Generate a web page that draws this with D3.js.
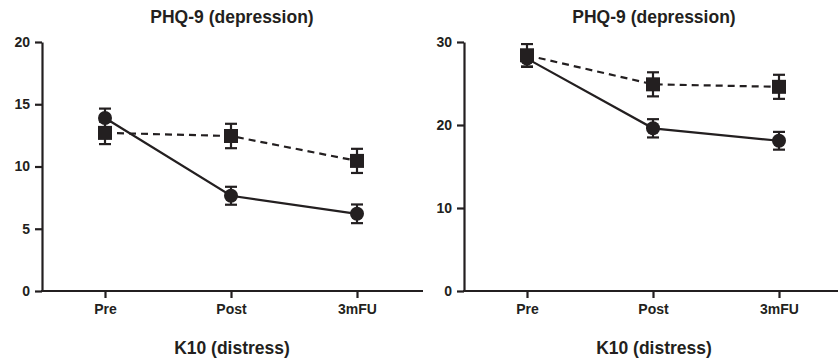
<!DOCTYPE html>
<html>
<head>
<meta charset="utf-8">
<script src="https://cdn.jsdelivr.net/npm/d3@7"></script>
<style>
    body { margin: 0; background: #fff; }
    svg { display: block; font-family: 'Liberation Sans', Arial, sans-serif; }
    .tick text { font-weight: bold; fill: #231f20; }
</style>
</head>
<body>
<svg id="chart" width="838" height="364"></svg>
<script>
// Time points
const categories = ['Pre', 'Post', '3mFU'];

// Left panel (0-20 scale)
const leftTicks = [0, 5, 10, 15, 20];
const leftCircle = [13.9, 7.65, 6.2];
const leftCircleErr = [0.75, 0.72, 0.75];
const leftSquare = [12.7, 12.45, 10.45];
const leftSquareErr = [0.9, 0.98, 0.97];

// Right panel (0-30 scale)
const rightTicks = [0, 10, 20, 30];
const rightCircle = [28.0, 19.6, 18.1];
const rightCircleErr = [1.0, 1.1, 1.07];
const rightSquare = [28.4, 24.9, 24.6];
const rightSquareErr = [1.35, 1.45, 1.45];

const titles = ['PHQ-9 (depression)', 'K10 (distress)'];

const ink = '#231f20';
const svg = d3.select('#chart');

const panels = [
    { x0: 42, max: 20, ticks: leftTicks, circle: leftCircle, circleErr: leftCircleErr, square: leftSquare, squareErr: leftSquareErr },
    { x0: 464, max: 30, ticks: rightTicks, circle: rightCircle, circleErr: rightCircleErr, square: rightSquare, squareErr: rightSquareErr },
];

panels.forEach((p) => {
    var g = svg.append('g');
    var x = d3.scalePoint().domain(categories).range([p.x0, p.x0 + 378]).padding(0.5);
    var y = d3.scaleLinear().domain([0, p.max]).range([291, 42]);

    // axes
    var ya = g.append('g')
        .attr('transform', 'translate(' + p.x0 + ',0)')
        .call(d3.axisLeft(y).tickValues(p.ticks).tickSize(7).tickPadding(5).tickSizeOuter(0));
    var xa = g.append('g')
        .attr('transform', 'translate(0,291)')
        .call(d3.axisBottom(x).tickSize(7).tickPadding(6).tickSizeOuter(0));
    [ya, xa].forEach((a) => {
        a.select('.domain').attr('stroke', ink).attr('stroke-width', 2.2);
        a.selectAll('.tick line').attr('stroke', ink).attr('stroke-width', 2.2);
        a.selectAll('.tick text').style('font-size', '14px');
    });
    // x axis runs from the y axis out to the panel edge
    xa.select('.domain').attr('d', 'M' + (p.x0 - 1) + ',0H' + (p.x0 + 381));

    var cx = p.x0 + 190;
    g.append('text').attr('x', cx).attr('y', 23).attr('text-anchor', 'middle')
        .style('font-size', '17.5px').style('font-weight', 'bold').attr('fill', ink).text(titles[0]);
    g.append('text').attr('x', cx).attr('y', 354).attr('text-anchor', 'middle')
        .style('font-size', '17.5px').style('font-weight', 'bold').attr('fill', ink).text(titles[1]);

    var series = [
        { vals: p.circle, err: p.circleErr, dash: null, shape: 'circle' },
        { vals: p.square, err: p.squareErr, dash: '7,5', shape: 'square' },
    ];
    var line = d3.line().x((d, i) => x(categories[i])).y((d) => y(d));

    series.forEach((s) => {
        g.append('path')
            .attr('d', line(s.vals))
            .attr('fill', 'none')
            .attr('stroke', ink)
            .attr('stroke-width', 2.2)
            .attr('stroke-dasharray', s.dash);

        var eb = g.append('g').selectAll('g')
            .data(s.vals.map((v, i) => ({ c: categories[i], v: v, e: s.err[i] })))
            .join('g')
            .attr('stroke', ink)
            .attr('stroke-width', 2.2);
        eb.append('line')
            .attr('x1', (d) => x(d.c)).attr('x2', (d) => x(d.c))
            .attr('y1', (d) => y(d.v + d.e)).attr('y2', (d) => y(d.v - d.e));
        eb.append('line')
            .attr('x1', (d) => x(d.c) - 6).attr('x2', (d) => x(d.c) + 6)
            .attr('y1', (d) => y(d.v + d.e)).attr('y2', (d) => y(d.v + d.e));
        eb.append('line')
            .attr('x1', (d) => x(d.c) - 6).attr('x2', (d) => x(d.c) + 6)
            .attr('y1', (d) => y(d.v - d.e)).attr('y2', (d) => y(d.v - d.e));

        if (s.shape == 'circle') {
            g.append('g').selectAll('circle')
                .data(s.vals)
                .join('circle')
                .attr('cx', (d, i) => x(categories[i]))
                .attr('cy', (d) => y(d))
                .attr('r', 7)
                .attr('fill', ink);
        } else {
            g.append('g').selectAll('rect')
                .data(s.vals)
                .join('rect')
                .attr('x', (d, i) => x(categories[i]) - 7)
                .attr('y', (d) => y(d) - 7)
                .attr('width', 14)
                .attr('height', 14)
                .attr('fill', ink);
        }
    });
});
</script>
</body>
</html>
